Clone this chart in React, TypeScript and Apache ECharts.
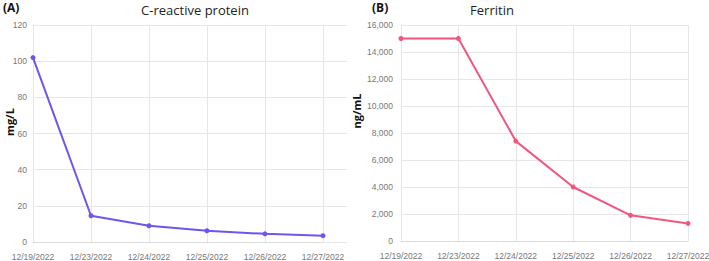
import React, { useEffect, useRef } from "react";
import * as echarts from "echarts";

const dates = ["12/19/2022", "12/23/2022", "12/24/2022", "12/25/2022", "12/26/2022", "12/27/2022"];
const crpValues = [102, 14.5, 9, 6.2, 4.5, 3.5];
const ferritinValues = [15000, 15000, 7400, 4000, 1900, 1300];
const crpTicks = { min: 0, max: 120, interval: 20 };
const ferTicks = { min: 0, max: 16000, interval: 2000 };

const tickFont = { fontFamily: "Liberation Sans, Arial, sans-serif", fontSize: 8.5, color: "#777" };
const gridLine = { lineStyle: { color: "#e6e6e6", width: 1 } };
const nameFont = "bold 11px 'Open Sans', sans-serif";

export default function App() {
  const ref = useRef<HTMLDivElement>(null);
  useEffect(() => {
    if (!ref.current) return;
    const chart = echarts.init(ref.current, undefined, { renderer: "svg" });
    const fmt = (v: number) => v.toLocaleString("en-US");
    chart.setOption({
      animation: false,
      backgroundColor: "#fff",
      grid: [
        { left: 33, top: 25, width: 290, height: 217, outerBoundsMode: "none", containLabel: false },
        { left: 401, top: 25, width: 287, height: 216, outerBoundsMode: "none", containLabel: false },
        { left: 33, top: 25, width: 314, height: 217, outerBoundsMode: "none", containLabel: false },
      ],
      xAxis: [
        {
          gridIndex: 0, type: "category", data: dates, boundaryGap: false,
          axisLine: { lineStyle: { color: "#dcdcdc" } }, axisTick: { show: false },
          axisLabel: { ...tickFont, margin: 10, interval: 0 },
          splitLine: { show: true, ...gridLine },
        },
        {
          gridIndex: 1, type: "category", data: dates, boundaryGap: false,
          axisLine: { lineStyle: { color: "#dcdcdc" } }, axisTick: { show: false },
          axisLabel: { ...tickFont, margin: 10, interval: 0 },
          splitLine: { show: true, ...gridLine },
        },
        { gridIndex: 2, type: "category", data: dates, show: false },
      ],
      yAxis: [
        {
          gridIndex: 0, type: "value", ...crpTicks,
          axisLine: { show: false }, axisTick: { show: false },
          axisLabel: { ...tickFont, margin: 6 },
          splitLine: { show: false },
        },
        {
          gridIndex: 1, type: "value", ...ferTicks,
          axisLine: { show: false }, axisTick: { show: false },
          axisLabel: { ...tickFont, margin: 8, formatter: fmt },
          splitLine: { show: true, ...gridLine },
        },
        {
          gridIndex: 2, type: "value", ...crpTicks,
          axisLine: { show: false }, axisTick: { show: false }, axisLabel: { show: false },
          splitLine: { show: true, ...gridLine },
        },
      ],
      series: [
        {
          type: "line", xAxisIndex: 0, yAxisIndex: 0, data: crpValues,
          symbol: "circle", symbolSize: 5, z: 5,
          lineStyle: { color: "#6f55ee", width: 2 }, itemStyle: { color: "#6f55ee" },
        },
        {
          type: "line", xAxisIndex: 1, yAxisIndex: 1, data: ferritinValues,
          symbol: "circle", symbolSize: 5, z: 5,
          lineStyle: { color: "#f0567e", width: 2 }, itemStyle: { color: "#f0567e" },
        },
      ],
      graphic: [
        { type: "text", left: 3, top: 1, style: { text: "(A)", font: "bold 12px 'Open Sans', sans-serif", fill: "#111" } },
        { type: "text", left: 372, top: 1, style: { text: "(B)", font: "bold 12px 'Open Sans', sans-serif", fill: "#111" } },
        { type: "text", x: 195, y: 10, style: { text: "C-reactive protein", font: "13px 'Open Sans', sans-serif", fill: "#222", align: "center", verticalAlign: "middle" } },
        { type: "text", x: 492, y: 10, style: { text: "Ferritin", font: "13px 'Open Sans', sans-serif", fill: "#222", align: "center", verticalAlign: "middle" } },
        { type: "text", x: 9, y: 122, rotation: Math.PI / 2, style: { text: "mg/L", font: nameFont, fill: "#111", align: "center", verticalAlign: "middle" } },
        { type: "text", x: 356, y: 111, rotation: Math.PI / 2, style: { text: "ng/mL", font: nameFont, fill: "#111", align: "center", verticalAlign: "middle" } },
      ],
    });
    return () => chart.dispose();
  }, []);
  return <div ref={ref} style={{ position: "fixed", left: 0, top: 0, width: 709, height: 261 }} />;
}
